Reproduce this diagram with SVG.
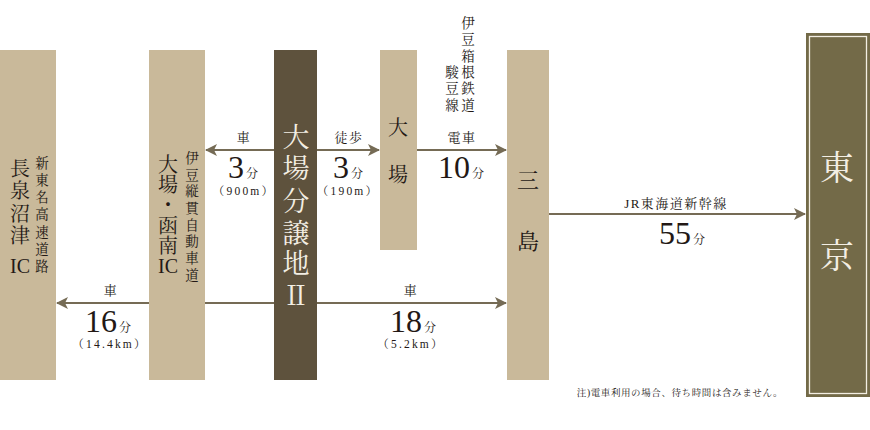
<svg xmlns="http://www.w3.org/2000/svg" width="870" height="430" viewBox="0 0 870 430">
<defs>
<style>
text{font-family:"Liberation Serif","Noto Serif CJK JP","Noto Sans CJK JP",serif;fill:#231815;text-anchor:middle}
.tan{fill:#c9b99a}
.w{fill:#f3eee3}
.lbl{font-size:13px;letter-spacing:1.5px}
.num{font-size:32px}
.fen{font-size:12px}
.dist{font-size:11.5px;letter-spacing:2.2px}
.v20{font-size:20px}
.v13{font-size:13.5px}
.conn line{stroke:#756b55;stroke-width:2}
</style>
<marker id="ah" markerUnits="userSpaceOnUse" markerWidth="12" markerHeight="12" refX="11" refY="6" orient="auto">
<path d="M0,0 L12,6 L0,12 L3,6 z" fill="#756b55"/>
</marker>
</defs>
<rect width="870" height="430" fill="#ffffff"/>

<g id="nagaizumi">
<rect class="tan" x="0" y="50" width="56" height="330"/>
<text class="v20" font-size="21"><tspan x="20" y="176">長</tspan><tspan x="20" y="198">泉</tspan><tspan x="20" y="221">沼</tspan><tspan x="20" y="243">津</tspan><tspan x="20" y="273">IC</tspan></text>
<text class="v13"><tspan x="42" y="168">新</tspan><tspan x="42" y="185">東</tspan><tspan x="42" y="202">名</tspan><tspan x="42" y="219">高</tspan><tspan x="42" y="237">速</tspan><tspan x="42" y="254">道</tspan><tspan x="42" y="271">路</tspan></text>
</g>

<g id="ohba-kannami">
<rect class="tan" x="149" y="50" width="56" height="330"/>
<text class="v20"><tspan x="168" y="172">大</tspan><tspan x="168" y="192">場</tspan><tspan x="168" y="212">・</tspan><tspan x="168" y="233">函</tspan><tspan x="168" y="253">南</tspan><tspan x="168" y="273">IC</tspan></text>
<text class="v13"><tspan x="192" y="163">伊</tspan><tspan x="192" y="180">豆</tspan><tspan x="192" y="196">縦</tspan><tspan x="192" y="213">貫</tspan><tspan x="192" y="230">自</tspan><tspan x="192" y="246">動</tspan><tspan x="192" y="263">車</tspan><tspan x="192" y="280">道</tspan></text>
</g>

<g id="site">
<rect x="274" y="50" width="43" height="330" fill="#5e523d"/>
<text class="w" font-size="27"><tspan x="296" y="147">大</tspan><tspan x="296" y="178">場</tspan><tspan x="296" y="211">分</tspan><tspan x="296" y="243">譲</tspan><tspan x="296" y="273">地</tspan><tspan x="296" y="305">Ⅱ</tspan></text>
</g>

<g id="ohba-station">
<rect class="tan" x="380" y="50" width="37" height="200"/>
<text class="v20"><tspan x="398" y="135">大</tspan><tspan x="398" y="182">場</tspan></text>
</g>

<g id="mishima">
<rect class="tan" x="507" y="50" width="42" height="330"/>
<text font-size="22"><tspan x="528" y="188">三</tspan><tspan x="528" y="249">島</tspan></text>
</g>

<g id="tokyo">
<rect x="806" y="33" width="64" height="364" fill="#736a48"/>
<rect x="809.5" y="36.5" width="57" height="357" fill="none" stroke="#f3eee3" stroke-width="1.3"/>
<text class="w" font-size="34"><tspan x="837" y="180">東</tspan><tspan x="837" y="268">京</tspan></text>
</g>

<g id="line-label">
<text class="v13" font-size="13"><tspan x="468" y="28">伊</tspan><tspan x="468" y="44">豆</tspan><tspan x="468" y="61">箱</tspan><tspan x="468" y="77">根</tspan><tspan x="468" y="93">鉄</tspan><tspan x="468" y="110">道</tspan><tspan x="452" y="77">駿</tspan><tspan x="452" y="93">豆</tspan><tspan x="452" y="110">線</tspan></text>
</g>

<g class="conn" id="connectors">
<line x1="274" y1="150" x2="206" y2="150" marker-end="url(#ah)"/>
<line x1="317" y1="150" x2="379" y2="150" marker-end="url(#ah)"/>
<line x1="417" y1="150" x2="506" y2="150" marker-end="url(#ah)"/>
<line x1="549" y1="214" x2="805" y2="214" marker-end="url(#ah)"/>
<line x1="149" y1="303" x2="57" y2="303" marker-end="url(#ah)"/>
<line x1="205" y1="303" x2="274" y2="303"/>
<line x1="317" y1="303" x2="506" y2="303" marker-end="url(#ah)"/>
</g>

<g id="labels">
<text class="lbl" x="244" y="142">車</text>
<text x="243" y="178"><tspan class="num">3</tspan><tspan class="fen" dx="2">分</tspan></text>
<text class="dist" x="244" y="195">（900m）</text>

<text class="lbl" x="349" y="142">徒歩</text>
<text x="348" y="178"><tspan class="num">3</tspan><tspan class="fen" dx="2">分</tspan></text>
<text class="dist" x="348" y="195">（190m）</text>

<text class="lbl" x="462" y="142">電車</text>
<text x="461" y="178"><tspan class="num">10</tspan><tspan class="fen" dx="2">分</tspan></text>

<text class="lbl" x="676" y="208">JR東海道新幹線</text>
<text x="682" y="244"><tspan class="num">55</tspan><tspan class="fen" dx="2">分</tspan></text>

<text class="lbl" x="111" y="295">車</text>
<text x="108" y="332"><tspan class="num">16</tspan><tspan class="fen" dx="2">分</tspan></text>
<text class="dist" x="110" y="348">（14.4km）</text>

<text class="lbl" x="411" y="295">車</text>
<text x="413" y="332"><tspan class="num">18</tspan><tspan class="fen" dx="2">分</tspan></text>
<text class="dist" x="411" y="348">（5.2km）</text>

<text x="680" y="396" font-size="9.5" letter-spacing="0.6">注)電車利用の場合、待ち時間は含みません。</text>
</g>
</svg>
